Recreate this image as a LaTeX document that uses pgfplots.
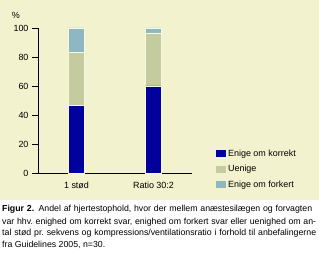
\documentclass[border=0pt]{standalone}
\usepackage{pgfplots}
\pgfplotsset{compat=1.18}
\usepackage{fontspec}
\setmainfont{Liberation Sans}
\frenchspacing
\definecolor{bg}{HTML}{F3F2CF}
\definecolor{korrekt}{HTML}{00009A}
\definecolor{uenige}{HTML}{C4CB9E}
\definecolor{forkert}{HTML}{8DB8C2}
\begin{document}
\begin{tikzpicture}
\fill[white] (0,0) rectangle (319bp,255bp);
\fill[bg] (0,55bp) rectangle (319bp,255bp);
\begin{axis}[
  at={(38bp,82bp)}, anchor=south west,
  scale only axis, width=154bp, height=145bp,
  ybar stacked, bar width=16bp,
  xmin=-0.5, xmax=1.5, ymin=0, ymax=100,
  axis x line*=bottom, axis y line*=left,
  axis line style={-, black, line width=0.7pt},
  xtick={0,1}, xticklabels={1 stød, Ratio 30:2},
  x tick style={draw=none},
  extra x ticks={0.5,1.5}, extra x tick labels={},
  extra x tick style={tick align=outside, major tick length=5bp, tick style={black, line width=0.7pt}},
  ytick={0,20,40,60,80,100},
  y tick style={black, line width=0.7pt},
  tick align=outside, major tick length=6bp,
  /pgf/number format/assume math mode=true,
  tick label style={font=\fontsize{9}{10}\selectfont},
  xticklabel style={yshift=1bp},
  legend style={at={(axis description cs:1.155,0.176)}, anchor=north west,
    draw=none, fill=none, font=\fontsize{9}{10}\selectfont,
    row sep=3.6bp, inner sep=0pt, legend cell align=left},
  legend image code/.code={\fill[#1,draw=none] (0bp,-3.5bp) rectangle (10bp,3.5bp);},
  clip=false,
]
\addplot[fill=korrekt, draw=bg!60!white, line width=0.4pt] coordinates {(0,46.7) (1,60.0)};
\addplot[fill=uenige, draw=bg!60!white, line width=0.4pt] coordinates {(0,36.6) (1,36.7)};
\addplot[fill=forkert, draw=bg!60!white, line width=0.4pt] coordinates {(0,16.7) (1,3.3)};
\legend{Enige om korrekt, Uenige, Enige om forkert}
\node[font=\fontsize{9}{10}\selectfont] at (axis description cs:-0.143,1.085) {\%};
\end{axis}
\begin{scope}[every node/.style={anchor=base west, inner sep=0pt, font=\fontsize{8.8}{10}\selectfont}]
\node at (2bp,43bp) {\makebox[310bp][s]{\textbf{Figur 2.}\enspace Andel af hjertestophold, hvor der mellem anæstesilægen og forvagten}};
\node at (2bp,31bp) {\makebox[314bp][s]{var hhv. enighed om korrekt svar, enighed om forkert svar eller uenighed om an-}};
\node at (2bp,19.5bp) {\makebox[314bp][s]{tal stød pr. sekvens og kompressions/ventilationsratio i forhold til anbefalingerne}};
\node at (2bp,8bp) {fra Guidelines 2005, n=30.};
\end{scope}
\end{tikzpicture}
\end{document}
